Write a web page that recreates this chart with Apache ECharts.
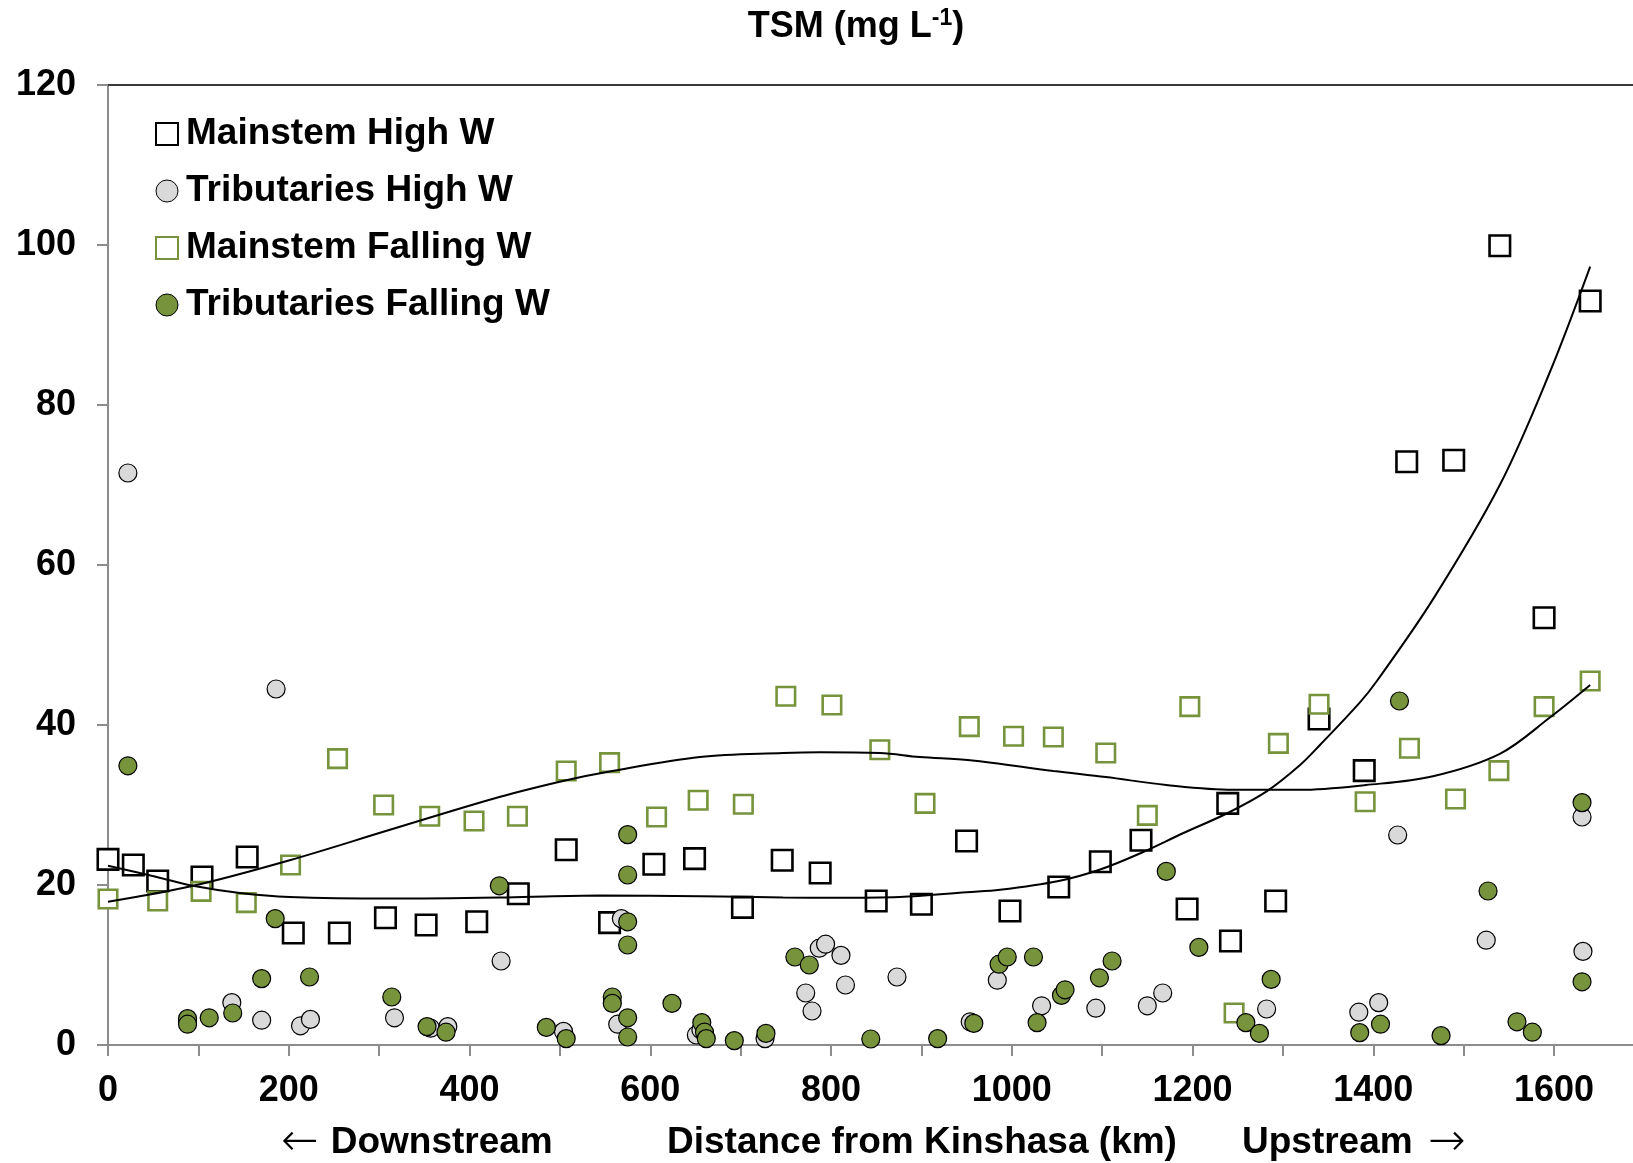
<!DOCTYPE html>
<html><head><meta charset="utf-8">
<script src="https://cdn.jsdelivr.net/npm/echarts@6/dist/echarts.min.js"></script>
<style>html,body{margin:0;padding:0;background:#fff}#c{width:1633px;height:1163px}</style>
</head><body><div id="c"></div>
<script>
// ---- Data (distance from Kinshasa, km ; TSM, mg/L) ----
const mainHighKm  = [0,28,55,104,154,205,256,307,352,408,454,507,555,604,649,702,746,788,850,900,950,998,1052,1098,1143,1194,1239,1242,1292,1340,1390,1437,1489,1540,1589,1640];
const mainHighVal = [23.2,22.5,20.5,21.0,23.5,14.0,14.0,15.9,15.0,15.4,18.9,24.4,15.3,22.6,23.3,17.2,23.1,21.5,18.0,17.6,25.5,16.75,19.75,22.9,25.6,17.0,30.2,13.0,18.0,40.75,34.3,72.9,73.1,99.9,53.4,93.0];

const tribHighKm  = [22,88,137,170,186,213,224,317,357,376,435,504,564,568,651,656,727,772,779,787,794,811,816,873,954,984,1033,1093,1150,1167,1282,1384,1406,1427,1525,1631,1632];
const tribHighVal = [71.5,2.9,5.3,3.1,44.5,2.4,3.2,3.4,2.1,2.3,10.5,1.7,2.6,15.8,1.25,1.9,0.8,6.5,4.25,12.1,12.6,11.2,7.5,8.5,2.9,8.1,4.9,4.6,4.9,6.5,4.5,4.1,5.3,26.25,13.1,28.5,11.7];

const mainFallKm  = [0,55,103,153,202,254,305,356,405,453,507,555,607,653,703,750,801,854,904,953,1002,1046,1104,1150,1197,1246,1295,1340,1391,1440,1491,1539,1589,1640];
const mainFallVal = [18.25,18.0,19.2,17.8,22.5,35.8,30.0,28.6,28.0,28.6,34.25,35.3,28.5,30.6,30.1,43.6,42.5,36.9,30.2,39.8,38.6,38.5,36.5,28.7,42.3,4.0,37.7,42.6,30.4,37.1,30.75,34.3,42.3,45.5];

const tribFallKm  = [22,88,88,112,138,170,185,223,314,353,374,433,485,507,558,558,575,575,575,575,575,575,624,657,660,662,693,728,760,776,844,918,958,986,995,1024,1028,1055,1059,1097,1111,1171,1207,1259,1274,1287,1385,1408,1429,1475,1527,1559,1576,1631,1631];
const tribFallVal = [34.9,3.3,2.6,3.4,4.0,8.3,15.8,8.5,6.0,2.3,1.6,19.9,2.2,0.8,6.0,5.2,26.3,21.25,15.4,12.5,3.4,1.0,5.2,2.8,1.6,0.8,0.55,1.45,11.0,10.0,0.75,0.8,2.7,10.1,11.0,11.0,2.8,6.2,6.9,8.4,10.5,21.7,12.2,2.8,1.45,8.2,1.55,2.6,43.0,1.17,19.25,2.9,1.6,30.3,7.9];

// Trend lines
const trendHighKm  = [0,54,94,146,201,312,441,544,655,747,802,876,950,987,1052,1097,1143,1190,1239,1282,1319,1341,1385,1404,1466,1540,1595,1640];
const trendHighVal = [22.4,21.0,19.9,19.0,18.5,18.3,18.45,18.7,18.6,18.45,18.4,18.5,19.1,19.4,20.5,21.9,24.0,26.5,29.0,31.7,35.0,37.5,42.8,45.5,55.7,70.0,84.0,97.3];
const trendFallKm  = [0,94,201,312,433,507,555,655,747,788,854,898,954,1046,1104,1171,1245,1319,1392,1466,1540,1595,1640];
const trendFallVal = [17.9,19.9,23.1,26.9,31.0,33.1,34.2,36.0,36.5,36.6,36.5,36.0,35.6,34.25,33.5,32.5,31.9,31.9,32.5,33.6,36.4,40.9,45.0];

const xTicks = {min: 0, max: 1700, step: 100, labelStep: 200};
const yTicks = {min: 0, max: 120, step: 20};

const seriesNames = ['Mainstem High W','Tributaries High W','Mainstem Falling W','Tributaries Falling W'];

function pairs(a, b) { return a.map((v, i) => [v, b[i]]); }

const FONT = '"Liberation Sans", Arial, sans-serif';
const chart = echarts.init(document.getElementById('c'), null, {renderer: 'canvas'});
const GREEN = '#77933C';
const ARROW_FONT = '"DejaVu Sans", sans-serif';
const nameRich = {
  arrL: {fontFamily: ARROW_FONT, fontWeight: 200, fontSize: 45, fill: '#000', padding: [0, 12, 0, 0]},
  arrR: {fontFamily: ARROW_FONT, fontWeight: 200, fontSize: 45, fill: '#000', padding: [0, 0, 0, 15]},
  t: {fontFamily: FONT, fontWeight: 'bold', fontSize: 37, fill: '#000'}
};

chart.setOption({
  animation: false,
  backgroundColor: '#ffffff',
  grid: {left: 108, top: 85, width: 1536.4, height: 960, containLabel: false, outerBoundsMode: 'none'},
  xAxis: [{
    type: 'value', min: xTicks.min, max: xTicks.max, interval: xTicks.step,
    axisLine: {show: true, onZero: false, lineStyle: {color: '#8c8c8c', width: 2}},
    axisTick: {show: true, inside: false, length: 11, lineStyle: {color: '#8c8c8c', width: 2}},
    splitLine: {show: false},
    axisLabel: {
      margin: 28, color: '#000', fontFamily: FONT, fontWeight: 'bold', fontSize: 36,
      formatter: v => (v % xTicks.labelStep === 0 ? String(v) : '')
    }
  }, {
    type: 'value', position: 'top', min: xTicks.min, max: xTicks.max, interval: xTicks.step,
    axisLine: {show: true, onZero: false, lineStyle: {color: '#3a3a3a', width: 2}},
    axisTick: {show: false}, axisLabel: {show: false}, splitLine: {show: false}
  }],
  yAxis: {
    type: 'value', min: yTicks.min, max: yTicks.max, interval: yTicks.step,
    axisLine: {show: true, onZero: false, lineStyle: {color: '#8c8c8c', width: 2}},
    axisTick: {show: true, inside: false, length: 11, lineStyle: {color: '#8c8c8c', width: 2}},
    splitLine: {show: false},
    axisLabel: {margin: 32, color: '#000', fontFamily: FONT, fontWeight: 'bold', fontSize: 36}
  },
  legend: {
    orient: 'vertical', left: 155, top: 114, padding: 0, itemGap: 17,
    itemWidth: 22, itemHeight: 22,
    textStyle: {fontFamily: FONT, fontWeight: 'bold', fontSize: 37, color: '#000', lineHeight: 40, padding: [0,0,0,3]},
    data: [
      {name: seriesNames[0], icon: 'rect', itemStyle: {color: '#fff', borderColor: '#000', borderWidth: 2}},
      {name: seriesNames[1], icon: 'circle', itemStyle: {color: '#D9D9D9', borderColor: '#000', borderWidth: 1}},
      {name: seriesNames[2], icon: 'rect', itemStyle: {color: '#fff', borderColor: GREEN, borderWidth: 2}},
      {name: seriesNames[3], icon: 'circle', itemStyle: {color: GREEN, borderColor: '#000', borderWidth: 1}}
    ]
  },
  graphic: [
    {type: 'text', x: 856, y: 27, style: {
      text: '{a|TSM (mg L}{s|-1}{a|)}', align: 'center', verticalAlign: 'middle',
      rich: {
        a: {fontFamily: FONT, fontWeight: 'bold', fontSize: 36, lineHeight: 40, fill: '#000'},
        s: {fontFamily: FONT, fontWeight: 'bold', fontSize: 23, lineHeight: 40, verticalAlign: 'top', fill: '#000', padding: [0,0,14,0]}
      }}},
    {type: 'text', x: 281, y: 1143, style: {text: '{arrL|\u2190}{t|Downstream}', rich: nameRich, verticalAlign: 'middle'}},
    {type: 'text', x: 667, y: 1143, style: {text: '{t|Distance from Kinshasa (km)}', rich: nameRich, verticalAlign: 'middle'}},
    {type: 'text', x: 1242, y: 1143, style: {text: '{t|Upstream}{arrR|\u2192}', rich: nameRich, verticalAlign: 'middle'}}
  ],
  series: [
    {name: seriesNames[0], type: 'scatter', symbol: 'rect', symbolSize: 20.5, z: 2,
     itemStyle: {color: '#fff', borderColor: '#000', borderWidth: 2.6, opacity: 1},
     data: pairs(mainHighKm, mainHighVal)},
    {name: seriesNames[1], type: 'scatter', symbol: 'circle', symbolSize: 18, z: 3,
     itemStyle: {color: '#D9D9D9', borderColor: '#000', borderWidth: 1.2, opacity: 1},
     data: pairs(tribHighKm, tribHighVal)},
    {name: seriesNames[2], type: 'scatter', symbol: 'rect', symbolSize: 18.5, z: 4,
     itemStyle: {color: '#fff', borderColor: GREEN, borderWidth: 2.6, opacity: 1},
     data: pairs(mainFallKm, mainFallVal)},
    {name: seriesNames[3], type: 'scatter', symbol: 'circle', symbolSize: 18, z: 5,
     itemStyle: {color: GREEN, borderColor: '#000', borderWidth: 1.2, opacity: 1},
     data: pairs(tribFallKm, tribFallVal)},
    {name: 'trendHigh', type: 'line', smooth: 0.35, showSymbol: false, silent: true, z: 6,
     lineStyle: {color: '#000', width: 2}, data: pairs(trendHighKm, trendHighVal)},
    {name: 'trendFall', type: 'line', smooth: 0.35, showSymbol: false, silent: true, z: 6,
     lineStyle: {color: '#000', width: 2}, data: pairs(trendFallKm, trendFallVal)}
  ]
});
</script>
</body></html>
